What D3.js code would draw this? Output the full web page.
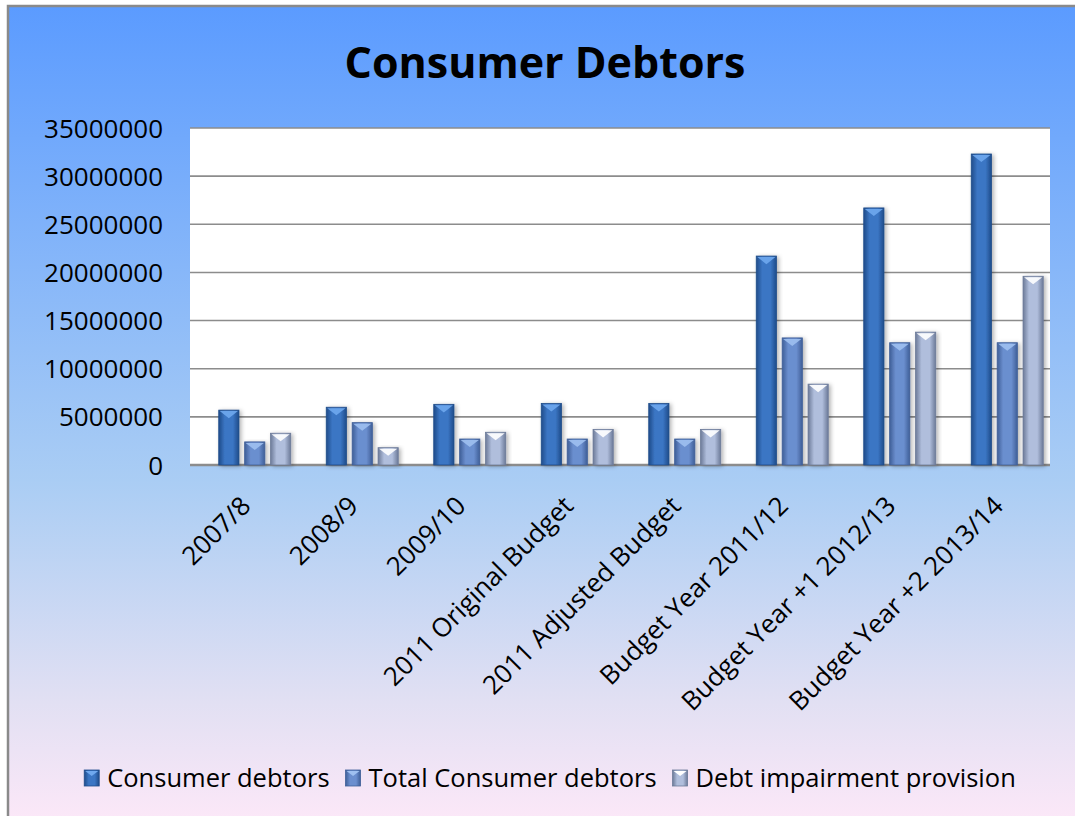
<!DOCTYPE html>
<html><head><meta charset="utf-8">
<script src="https://cdn.jsdelivr.net/npm/d3@7/dist/d3.min.js"></script>
<style>html,body{margin:0;padding:0;background:#fff;}svg{display:block;}</style>
</head><body>
<svg id="c" width="1075" height="816"></svg>
<script>
const categories = ["2007/8","2008/9","2009/10","2011 Original Budget","2011 Adjusted Budget","Budget Year 2011/12","Budget Year +1 2012/13","Budget Year +2 2013/14"];
const seriesNames = ["Consumer debtors","Total Consumer debtors","Debt impairment provision"];
const consumerDebtors = [5700000,6000000,6300000,6400000,6400000,21700000,26700000,32300000];
const totalConsumerDebtors = [2400000,4400000,2700000,2700000,2700000,13200000,12700000,12700000];
const debtImpairment = [3300000,1800000,3400000,3700000,3700000,8400000,13800000,19600000];
const yTicks = [0,5000000,10000000,15000000,20000000,25000000,30000000,35000000];

const seriesValues = [consumerDebtors,totalConsumerDebtors,debtImpairment];
const svg = d3.select("#c");
const defs = svg.append("defs");
const font = "'Open Sans', 'DejaVu Sans', sans-serif";

// background gradient
const bg = defs.append("linearGradient").attr("id","bg").attr("x1",0).attr("y1",0).attr("x2",0).attr("y2",1);
bg.append("stop").attr("offset","0").attr("stop-color","#5b9bff");
bg.append("stop").attr("offset","0.58").attr("stop-color","#aacdf4");
bg.append("stop").attr("offset","0.85").attr("stop-color","#e2e0f3");
bg.append("stop").attr("offset","1").attr("stop-color","#fde8f8");
svg.append("rect").attr("x",0).attr("y",0).attr("width",1075).attr("height",816).attr("fill","#fff");
svg.append("rect").attr("x",8).attr("y",6).attr("width",1080).attr("height",820)
  .attr("fill","url(#bg)").attr("stroke","#8a8a8a").attr("stroke-width",2.5);

// bar gradients
const palettes = [
  {edge:"#1f4c8a", mid:"#3b76c4", top:"#6fa8ee"},
  {edge:"#3f5f98", mid:"#6b8fcf", top:"#9fc0f0"},
  {edge:"#6c7a98", mid:"#b0bedc", top:"#ffffff"}
];
palettes.forEach((p,i)=>{
  const g = defs.append("linearGradient").attr("id","bar"+i).attr("x1",0).attr("y1",0).attr("x2",1).attr("y2",0);
  g.append("stop").attr("offset","0").attr("stop-color",p.edge);
  g.append("stop").attr("offset","0.3").attr("stop-color",p.mid);
  g.append("stop").attr("offset","0.7").attr("stop-color",p.mid);
  g.append("stop").attr("offset","1").attr("stop-color",p.edge);
});
const sh = defs.append("filter").attr("id","shadow").attr("x","-30%").attr("y","-10%").attr("width","160%").attr("height","130%");
sh.append("feDropShadow").attr("dx",2).attr("dy",1).attr("stdDeviation",2).attr("flood-color","#000").attr("flood-opacity",0.3);

const L = 190, R = 1050, T = 128, B = 465;
const x0 = d3.scaleBand().domain(categories).range([L,R]).padding(0);
const x1 = d3.scaleBand().domain(seriesNames).range([-36,36]).paddingInner(0.22);
const y = d3.scaleLinear().domain([0,35000000]).range([B,T]);
const barShift = 11;

// plot area
svg.append("rect").attr("x",L).attr("y",T).attr("width",R-L).attr("height",B-T).attr("fill","#fff");

// gridlines
svg.append("g").selectAll("line").data(yTicks).join("line")
  .attr("x1",L).attr("x2",R).attr("y1",d=>y(d)).attr("y2",d=>y(d))
  .attr("stroke","#8c8c8c").attr("stroke-width",d=>d===0?2.5:1.6);

// y axis labels
const yAxis = d3.axisLeft(y).tickValues(yTicks).tickFormat(d3.format("d")).tickSize(0).tickPadding(27);
const ya = svg.append("g").attr("transform",`translate(${L},0)`).call(yAxis);
ya.select(".domain").remove();
ya.selectAll("text").attr("font-family",font).attr("font-size",26).attr("fill","#000").attr("dy","0.35em");

// bars
const groups = svg.append("g").selectAll("g").data(categories).join("g")
  .attr("transform",d=>`translate(${x0(d)+x0.bandwidth()/2+barShift},0)`);
groups.each(function(cat,ci){
  const g = d3.select(this);
  seriesNames.forEach((s,si)=>{
    const v = seriesValues[si][ci];
    const bx = x1(s), bw = x1.bandwidth(), by = y(v), bh = y(0)-y(v);
    g.append("rect").attr("x",bx).attr("y",by).attr("width",bw).attr("height",bh)
      .attr("fill",`url(#bar${si})`).attr("stroke",palettes[si].edge).attr("stroke-width",0.8)
      .attr("filter","url(#shadow)");
    g.append("path")
      .attr("d",`M${bx+1},${by+1}L${bx+bw-1},${by+1}L${bx+bw/2},${by+bw*0.4}Z`)
      .attr("fill",palettes[si].top).attr("opacity",0.9);
  });
});

// x labels
svg.append("g").selectAll("text").data(categories).join("text")
  .attr("transform",d=>`translate(${x0(d)+x0.bandwidth()/2+2},${B+36}) rotate(-45)`)
  .attr("text-anchor","end").attr("font-family",font).attr("font-size",26).attr("fill","#000")
  .attr("dy","0.35em").text(d=>d);

// title
svg.append("text").attr("x",545).attr("y",78).attr("text-anchor","middle")
  .attr("font-family",font).attr("font-weight","bold").attr("font-size",43).attr("fill","#000")
  .text("Consumer Debtors");

// legend
const lg = svg.append("g");
let lx = 0;
seriesNames.forEach((s,si)=>{
  const it = lg.append("g").attr("transform",`translate(${lx},0)`);
  it.append("rect").attr("x",0).attr("y",-8).attr("width",15).attr("height",16)
    .attr("fill",`url(#bar${si})`).attr("stroke",palettes[si].edge).attr("stroke-width",0.8);
  it.append("path").attr("d","M1,-7L14,-7L7.5,-2Z").attr("fill",palettes[si].top);
  const t = it.append("text").attr("x",23).attr("y",0).attr("dy","0.35em")
    .attr("font-family",font).attr("font-size",25.5).attr("fill","#000").text(s);
  lx += 23 + t.node().getComputedTextLength() + 16;
});
const totalW = lx - 16;
lg.attr("transform",`translate(${550 - totalW/2},778)`);
</script>
</body></html>
